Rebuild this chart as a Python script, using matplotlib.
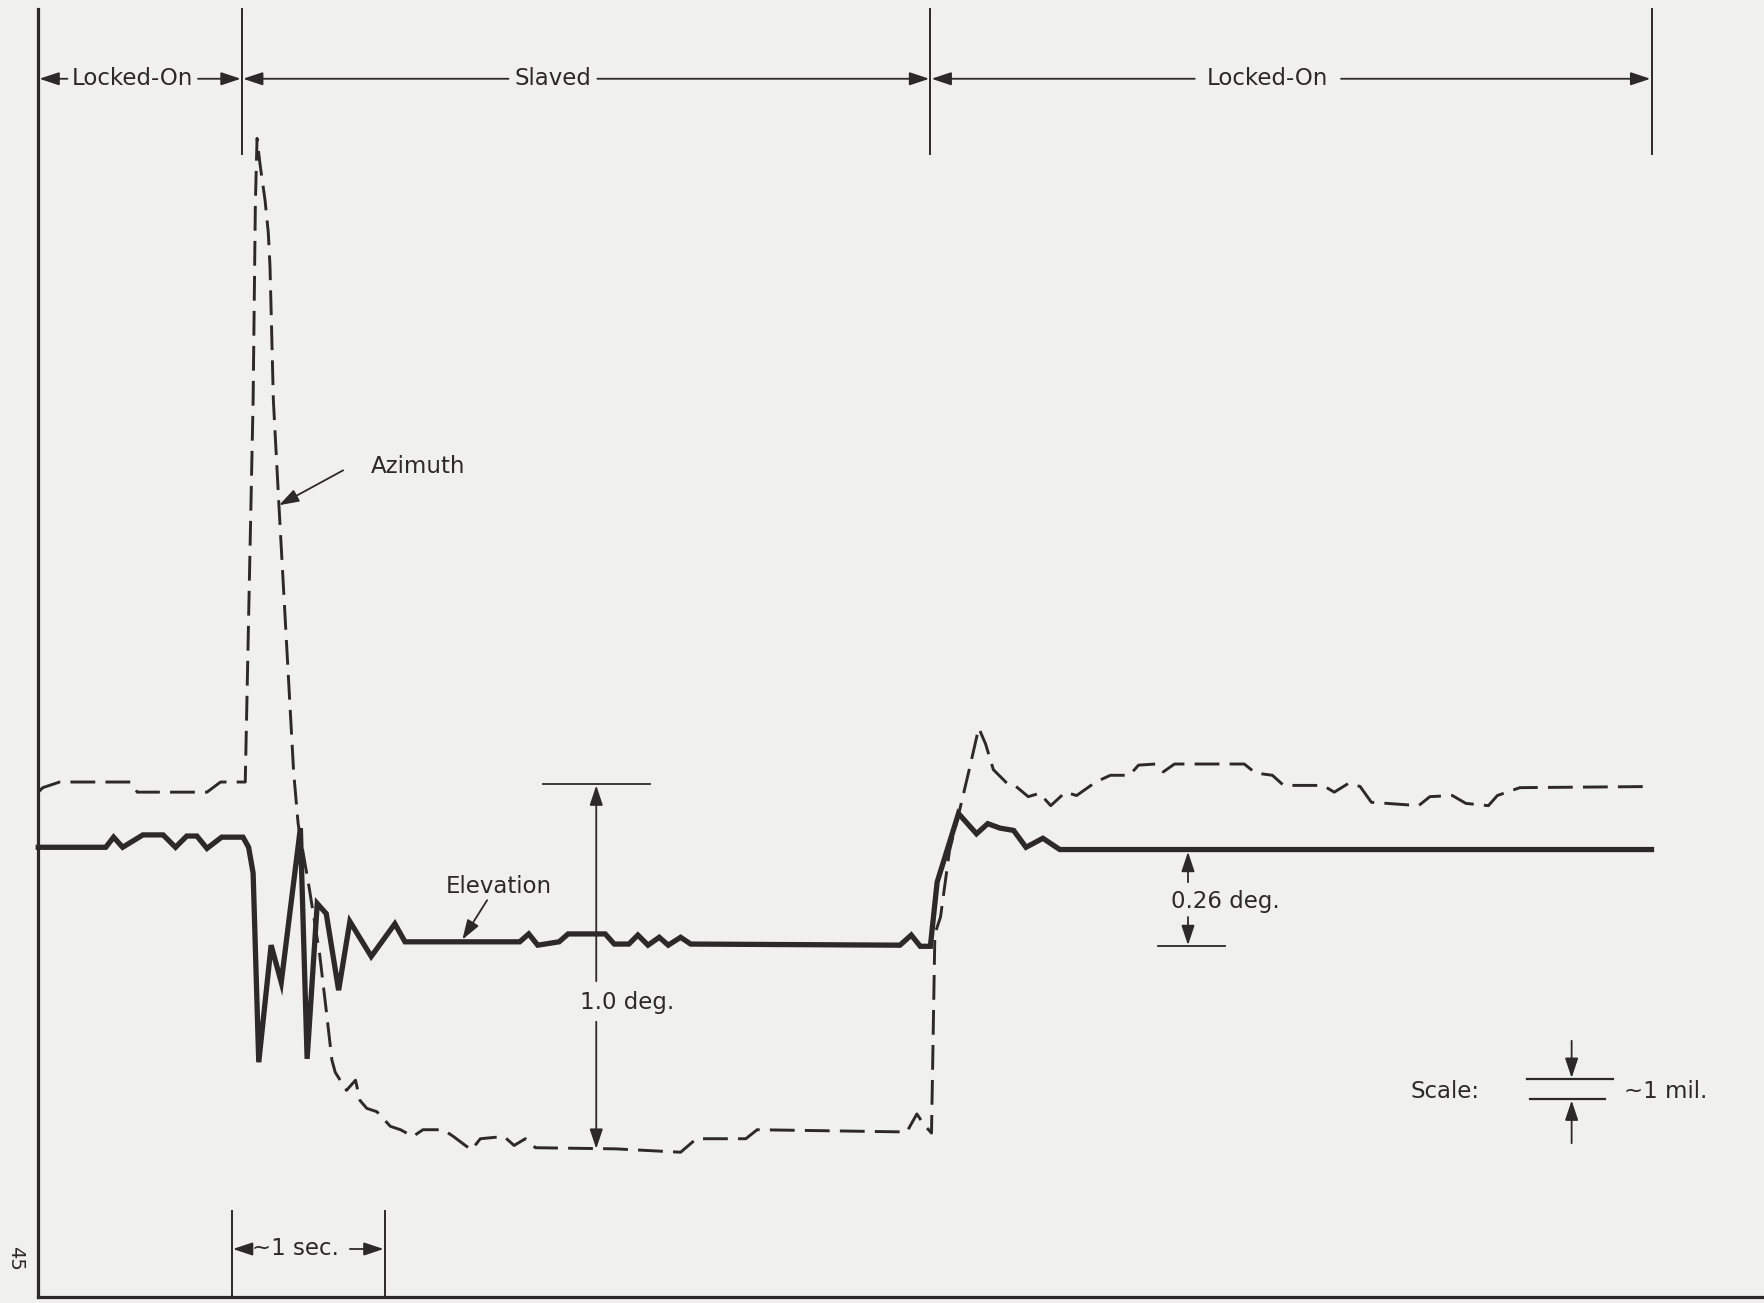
import matplotlib
matplotlib.use("Agg")
import matplotlib.pyplot as plt

# traced drawing, units = pixels of the 1568x1158 drawing (y grows downward)
# azimuth error trace (dashed)
az_x = [34, 38, 53, 116, 122, 184, 196, 218, 222, 225, 227, 228.5, 231, 235.6, 238.5,
        240, 241.5, 243, 248, 261, 265, 275, 284, 290, 295, 298, 308, 316, 320, 326,
        335, 347, 356, 367, 376, 394, 403, 419, 427, 448, 457, 467, 476, 547, 605,
        619, 663, 673, 806, 815, 821, 828, 831, 836, 844, 853, 862, 870, 876, 883,
        895, 902, 914, 924, 934, 947, 957, 974, 987, 1004, 1012, 1027, 1034, 1044, 1106,
        1116, 1131, 1141, 1176, 1186, 1199, 1209, 1219, 1261, 1271, 1291, 1303, 1323, 1331,
        1351, 1468]
az_y = [704, 700, 695, 695, 704, 704, 695, 695, 500, 355, 180, 123, 145, 178, 207,
        237, 296, 356, 450, 686, 732, 790, 847, 898, 942, 953, 969, 960, 978, 985,
        988, 1001, 1004, 1010, 1004, 1004, 1010, 1022, 1012, 1010, 1018, 1012, 1020, 1021, 1024,
        1012, 1012, 1004, 1006, 990, 999, 1007, 830, 815, 756, 720, 682, 647, 661, 684,
        696, 698, 708, 705, 716, 704, 707, 695, 689, 689, 680, 679, 686, 679, 679,
        687, 689, 698, 698, 704, 696, 699, 713, 716, 708, 707, 714, 716, 707,
        700, 699]

# elevation error trace (solid)
elev_x = [34, 94, 101, 109, 127, 145, 156, 166, 175, 184,
          197, 216, 221, 225, 230, 241, 250, 267, 273, 282,
          290, 301, 311, 330, 351, 360, 462, 470, 478, 497,
          505, 538, 546, 559, 567, 576, 586, 594, 605, 614,
          800, 810, 818, 827, 833, 852, 868, 878, 889, 901,
          912, 927, 942, 1468]
elev_y = [753, 753, 744, 753, 742, 742, 753, 743, 743, 754,
          744, 744, 753, 776, 944, 840, 873, 736, 941, 803,
          812, 880, 819, 850, 821, 837, 837, 830, 840, 837,
          830, 830, 839, 839, 831, 840, 833, 840, 833, 839,
          840, 831, 841, 841, 784, 723, 741, 732, 736, 738,
          753, 745, 755, 755]

# mode boundaries and labels
mode_edges = [34, 215, 827, 1468]
mode_labels = ["Locked-On", "Slaved", "Locked-On"]
mode_text_left = [60, 452, 1062]
mode_text_right = [176, 531, 1192]

ink = "#2d292a"
paper = "#f0f0ee"

fig = plt.figure(figsize=(17.64, 13.03), dpi=100)
fig.patch.set_facecolor(paper)
ax = fig.add_axes([0, 0, 1, 1])
ax.set_facecolor(paper)
ax.set_xlim(0, 1568)
ax.set_ylim(1158, 0)
ax.axis("off")

font = dict(family="DejaVu Sans", color=ink, fontsize=16.5)

def arrow(x0, y0, x1, y1, lw=1.3, hl=0.6, hw=0.2):
    ax.annotate("", xy=(x1, y1), xytext=(x0, y0),
                arrowprops=dict(arrowstyle=f"-|>,head_length={hl},head_width={hw}",
                                color=ink, lw=lw, shrinkA=0, shrinkB=0,
                                mutation_scale=20))

# frame
ax.plot([34, 34], [8, 1153], color=ink, lw=2.3)
ax.plot([34, 1568], [1153, 1153], color=ink, lw=2.3)
for xe in mode_edges[1:]:
    ax.plot([xe, xe], [8, 137], color=ink, lw=1.4)

# mode spans across the top
for i, lab in enumerate(mode_labels):
    a, b = mode_edges[i], mode_edges[i + 1]
    arrow(mode_text_left[i], 70, a + 1, 70)
    arrow(mode_text_right[i], 70, b - 1, 70)
    ax.text((mode_text_left[i] + mode_text_right[i]) / 2, 70, lab,
            ha="center", va="center", **font)

# traces
ax.plot(az_x, az_y, color=ink, lw=2.1, linestyle=(0, (8.5, 3.5)),
        solid_joinstyle="miter", zorder=3)
ax.plot(elev_x, elev_y, color=ink, lw=3.8, solid_joinstyle="miter", zorder=4)

# trace labels
ax.text(372, 415, "Azimuth", ha="center", va="center", **font)
arrow(305, 418, 248, 449)
ax.text(443, 788, "Elevation", ha="center", va="center", **font)
arrow(433, 800, 411, 835)

# 1.0 deg dimension
ax.plot([483, 578], [697, 697], color=ink, lw=1.3)
arrow(530, 872, 530, 698)
arrow(530, 908, 530, 1021)
ax.text(557, 891, "1.0 deg.", ha="center", va="center", **font)

# 0.26 deg dimension
arrow(1056, 784, 1056, 757)
arrow(1056, 815, 1056, 840)
ax.plot([1029, 1089], [841, 841], color=ink, lw=1.3)
ax.text(1089, 801, "0.26 deg.", ha="center", va="center", **font)

# scale key
ax.plot([1357, 1434], [959, 959], color=ink, lw=1.6)
ax.plot([1360, 1427], [977, 977], color=ink, lw=1.6)
arrow(1397, 925, 1397, 958)
arrow(1397, 1016, 1397, 978)
ax.text(1284, 970, "Scale:", ha="center", va="center", **font)
ax.text(1481, 970, "~1 mil.", ha="center", va="center", **font)

# time scale
ax.plot([206, 206], [1076, 1153], color=ink, lw=1.4)
ax.plot([342, 342], [1076, 1153], color=ink, lw=1.4)
arrow(217, 1110, 207, 1110)
arrow(311, 1110, 341, 1110)
ax.text(263, 1110, "~1 sec.", ha="center", va="center", **font)

# page number
ax.text(14, 1118, "45", ha="center", va="center", rotation=-90,
        family="DejaVu Sans", color=ink, fontsize=14)

fig.savefig("out.png", dpi=100, facecolor=paper)
